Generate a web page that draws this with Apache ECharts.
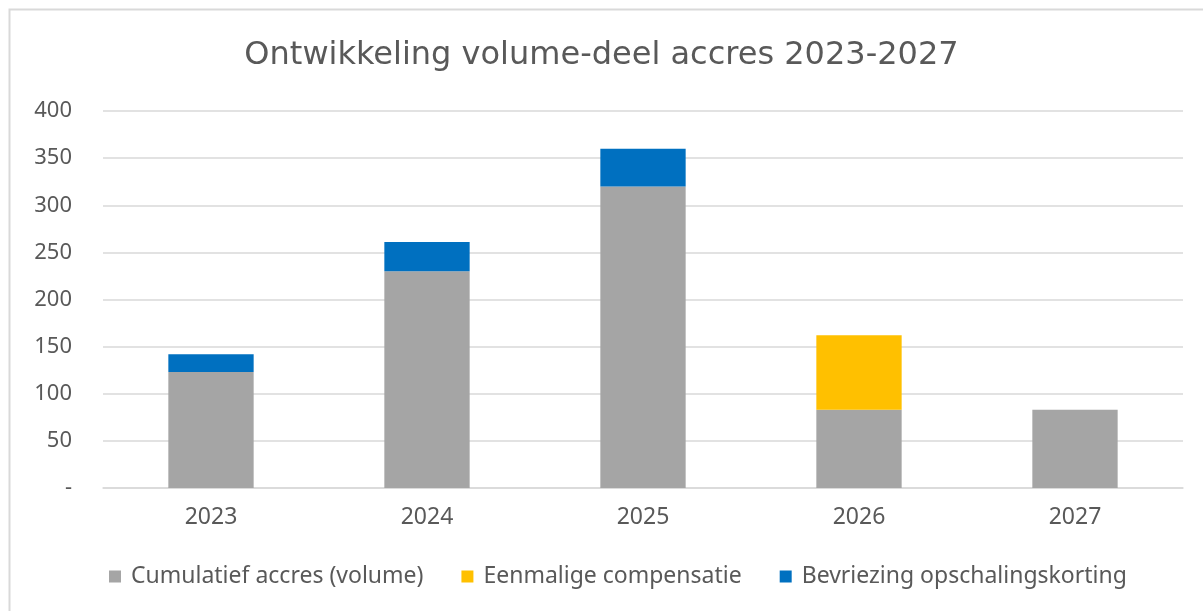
<!DOCTYPE html>
<html>
<head>
<meta charset="utf-8">
<script src="https://cdn.jsdelivr.net/npm/echarts@6/dist/echarts.min.js"></script>
<style>
html,body{margin:0;padding:0;background:#fff;}
#c{width:1203px;height:611px;}
</style>
</head>
<body>
<div id="c"></div>
<script>
const categories = ['2023', '2024', '2025', '2026', '2027'];
const cumulatief = [123, 230, 320, 83, 83];
const eenmalig = [null, null, null, 79, null];
const bevriezing = [19, 31, 40, null, null];
const yTicks = [0, 50, 100, 150, 200, 250, 300, 350, 400];
const seriesNames = ['Cumulatief accres (volume)', 'Eenmalige compensatie', 'Bevriezing opschalingskorting'];

const font = 'Noto Sans';
const chart = echarts.init(document.getElementById('c'));
chart.setOption({
  animation: false,
  textStyle: { fontFamily: font },
  title: {
    text: 'Ontwikkeling volume-deel accres 2023-2027',
    left: 'center', top: 35,
    textStyle: { fontFamily: 'DejaVu Sans', fontSize: 32, fontWeight: 'normal', color: '#595959' }
  },
  graphic: [{
    type: 'rect', left: 7, top: 7, silent: true,
    shape: { width: 1220, height: 630 },
    style: { fill: 'none', stroke: '#d9d9d9', lineWidth: 2 }
  }],
  legend: {
    bottom: 18, left: 104, itemWidth: 12, itemHeight: 12, itemGap: 38,
    icon: 'rect',
    textStyle: { fontFamily: font, fontSize: 23, color: '#595959', padding: [0, 0, 0, 5] },
    data: seriesNames
  },
  grid: { left: 103, right: 20, top: 111, bottom: 123 },
  xAxis: {
    type: 'category', data: categories,
    axisLine: { lineStyle: { color: '#d9d9d9', width: 1.5 } },
    axisTick: { show: false },
    axisLabel: { fontFamily: font, fontSize: 23, color: '#595959', margin: 18 }
  },
  yAxis: {
    type: 'value', min: yTicks[0], max: yTicks[yTicks.length - 1], interval: 50,
    axisLine: { show: false }, axisTick: { show: false },
    splitLine: { lineStyle: { color: '#d9d9d9', width: 1.5 } },
    axisLabel: {
      fontFamily: font, fontSize: 22, color: '#595959', margin: 31,
      formatter: v => v === 0 ? '-' : String(v)
    }
  },
  series: [
    { name: seriesNames[0], type: 'bar', stack: 's', data: cumulatief, barWidth: '39.5%', itemStyle: { color: '#a5a5a5' } },
    { name: seriesNames[1], type: 'bar', stack: 's', data: eenmalig, itemStyle: { color: '#ffc000' } },
    { name: seriesNames[2], type: 'bar', stack: 's', data: bevriezing, itemStyle: { color: '#0070c0' } }
  ]
});
</script>
</body>
</html>
